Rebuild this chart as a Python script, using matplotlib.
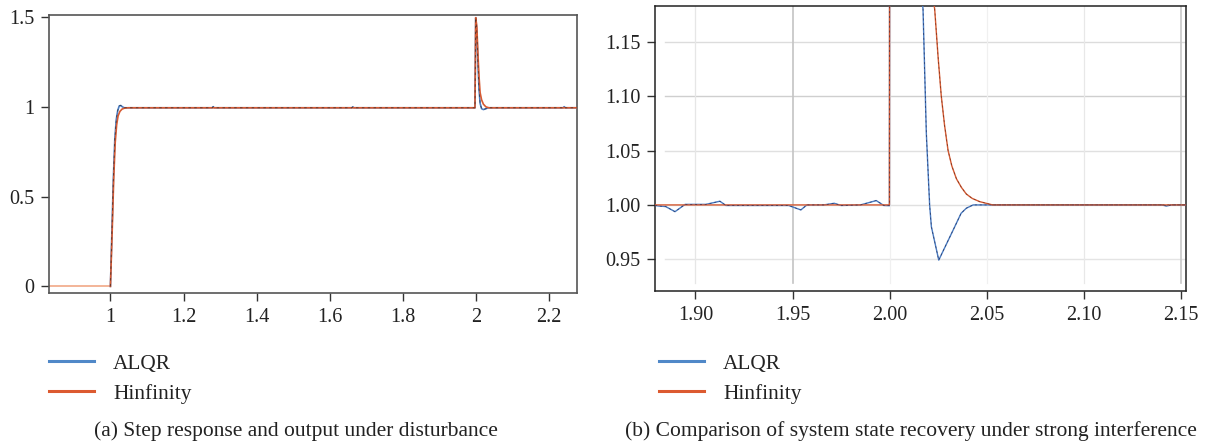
import matplotlib
matplotlib.use("Agg")
import matplotlib.pyplot as plt
from matplotlib.lines import Line2D

plt.rcParams["font.family"] = ["Liberation Serif", "DejaVu Serif"]

BLUE = "#4a7cc2"
RED = "#d65a32"
LEG_BLUE = "#5088c8"
LEG_RED = "#dc5a30"

# ---- panel (a): step response + disturbance
t_a_alqr = [0.832, 1.000, 1.004, 1.008, 1.012, 1.016, 1.020, 1.024, 1.028, 1.033, 1.038,
            1.278, 1.281, 1.284, 1.660, 1.663, 1.666, 1.997, 1.999, 2.002, 2.005, 2.008,
            2.011, 2.015, 2.020, 2.027, 2.033, 2.238, 2.241, 2.244, 2.276]
y_a_alqr = [0.0, 0.0, 0.30, 0.60, 0.82, 0.93, 0.98, 1.005, 1.008, 1.000, 0.995,
            0.995, 1.001, 0.995, 0.995, 1.000, 0.995, 0.995, 1.497, 1.42, 1.25, 1.10,
            1.02, 0.99, 0.985, 0.99, 0.995, 0.995, 1.001, 0.995, 0.995]

t_a_hinf = [0.832, 1.000, 1.005, 1.009, 1.013, 1.017, 1.021, 1.026, 1.032, 1.040, 1.050,
            1.997, 1.999, 2.002, 2.005, 2.008, 2.011, 2.015, 2.020, 2.027, 2.035, 2.276]
y_a_hinf = [0.0, 0.0, 0.32, 0.60, 0.80, 0.90, 0.95, 0.975, 0.988, 0.994, 0.995,
            0.995, 1.497, 1.45, 1.30, 1.17, 1.08, 1.04, 1.015, 1.000, 0.995, 0.995]

# ---- panel (b): recovery after strong interference
t_b_alqr = [1.8792, 1.8811, 1.8847, 1.8895, 1.8947, 1.9054, 1.9126, 1.9157, 1.9480,
            1.9543, 1.9574, 1.9660, 1.9715, 1.9750, 1.9850, 1.9931, 1.9970, 1.9999,
            2.0001, 2.0100, 2.0172, 2.0189, 2.0206, 2.0215, 2.0253, 2.0330, 2.0368,
            2.0395, 2.0430, 2.0480, 2.1400, 2.1426, 2.1450, 2.1526]
y_b_alqr = [0.9995, 0.9990, 0.9985, 0.9938, 1.0005, 1.0005, 1.0034, 0.9995, 0.9995,
            0.9954, 1.0000, 1.0000, 1.0015, 0.9995, 1.0000, 1.0040, 0.9995, 0.9993,
            1.497, 1.30, 1.18, 1.066, 1.000, 0.980, 0.9493, 0.978, 0.9923,
            0.997, 1.000, 1.000, 1.000, 0.9990, 1.000, 1.000]

t_b_hinf = [1.8792, 1.9999, 2.0001, 2.0100, 2.0180, 2.0232, 2.0250, 2.0266, 2.0283,
            2.0301, 2.0320, 2.0344, 2.0370, 2.0395, 2.0425, 2.0464, 2.0530, 2.1526]
y_b_hinf = [1.000, 1.000, 1.497, 1.35, 1.24, 1.18, 1.135, 1.10, 1.073,
            1.050, 1.036, 1.024, 1.016, 1.010, 1.006, 1.003, 1.000, 1.000]

xticks_a = [1, 1.2, 1.4, 1.6, 1.8, 2, 2.2]
xlabels_a = ["1", "1.2", "1.4", "1.6", "1.8", "2", "2.2"]
yticks_a = [0, 0.5, 1, 1.5]
ylabels_a = ["0", "0.5", "1", "1.5"]
xticks_b = [1.90, 1.95, 2.00, 2.05, 2.10, 2.15]
yticks_b = [0.95, 1.00, 1.05, 1.10, 1.15]

labels = ["ALQR", "Hinfinity"]
captions = ["(a) Step response and output under disturbance",
            "(b) Comparison of system state recovery under strong interference"]

W, H = 1205, 444
fig = plt.figure(figsize=(W / 100, H / 100), dpi=100)


def px_axes(x0, y0, x1, y1):
    return fig.add_axes([x0 / W, 1 - y1 / H, (x1 - x0) / W, (y1 - y0) / H])


def style_ticks(ax, spine_color, lw):
    for s in ax.spines.values():
        s.set_color(spine_color)
        s.set_linewidth(lw)
    ax.tick_params(direction="out", length=5.5, width=1.0, color="#333333",
                   labelsize=14.5, labelcolor="#222222", pad=5,
                   top=False, right=False)


# panel (a)
ax1 = px_axes(49, 15, 577, 293)
ax1.plot(t_a_hinf[:2], y_a_hinf[:2], color="#f0a07c", lw=1.1, zorder=2)
ax1.plot(t_a_alqr[1:], y_a_alqr[1:], color=BLUE, lw=1.2, zorder=3)
ax1.plot(t_a_hinf[1:], y_a_hinf[1:], color=RED, lw=1.2, zorder=4)
ax1.plot(t_a_alqr[1:], y_a_alqr[1:], color="#222222", lw=0.6, ls=(0, (3, 4)),
         alpha=0.7, zorder=5)
ax1.set_xlim(0.832, 2.276)
ax1.set_ylim(-0.037, 1.512)
ax1.set_xticks(xticks_a, xlabels_a)
ax1.set_yticks(yticks_a, ylabels_a)
style_ticks(ax1, "#555555", 1.2)

# panel (b)
ax2 = px_axes(655, 6, 1186, 291)
ax2.set_xlim(1.8792, 2.1526)
ax2.set_ylim(0.9209, 1.1828)
h_grid = {0.95: "#e4e4e4", 1.00: "#e0e0e0", 1.05: "#e0e0e0", 1.10: "#cfcfcf", 1.15: "#dcdcdc"}
v_grid = {1.90: "#e6e6e6", 1.95: "#c4c4c4", 2.00: "#f0f0f0", 2.05: "#f0f0f0",
          2.10: "#e8e8e8", 2.15: "#c8c8c8"}
for yv, c in h_grid.items():
    ax2.axhline(yv, xmin=0.019, xmax=1, color=c, lw=1.0, zorder=0)
for xv, c in v_grid.items():
    ax2.axvline(xv, ymin=0.028, ymax=1, color=c, lw=1.2 if c < "#d0d0d0" else 0.9, zorder=0)
ax2.plot(t_b_alqr, y_b_alqr, color=BLUE, lw=1.0, zorder=3)
ax2.plot(t_b_hinf, y_b_hinf, color=RED, lw=1.0, zorder=4)
ax2.plot(t_b_alqr, y_b_alqr, color="#1a1a40", lw=0.5, ls=(0, (3, 4)), alpha=0.7, zorder=5)
ax2.plot(t_b_hinf[2:], y_b_hinf[2:], color="#3a1a10", lw=0.5, ls=(0, (3, 4)), alpha=0.6, zorder=5)
ax2.set_xticks(xticks_b, [f"{v:.2f}" for v in xticks_b])
ax2.set_yticks(yticks_b, [f"{v:.2f}" for v in yticks_b])
style_ticks(ax2, "#222222", 1.1)

# legends under each panel
handles = [Line2D([], [], color=LEG_BLUE, lw=2.2), Line2D([], [], color=LEG_RED, lw=2.2)]
for x0 in (49, 659):
    fig.legend(handles, labels, loc="upper left", bbox_to_anchor=(x0 / W, 1 - 354 / H),
               frameon=False, fontsize=15.4, handlelength=2.1, handletextpad=0.9,
               labelspacing=0.45, borderpad=0, borderaxespad=0, labelcolor="#222222")

fig.text(296 / W, 1 - 431 / H, captions[0], ha="center", va="center",
         fontsize=15.5, color="#222222")
fig.text(911 / W, 1 - 431 / H, captions[1], ha="center", va="center",
         fontsize=15.5, color="#222222")

fig.savefig("out.png", dpi=100)
